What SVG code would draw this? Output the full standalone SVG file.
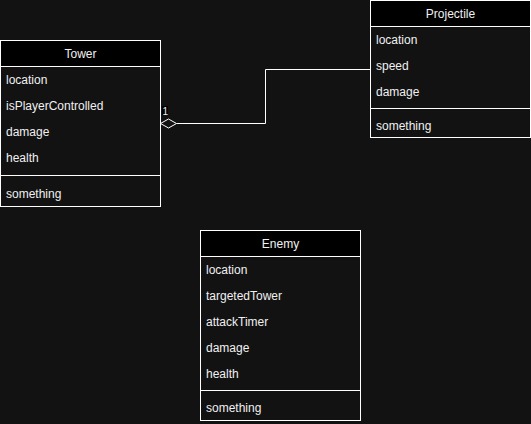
<svg xmlns="http://www.w3.org/2000/svg" width="531" height="424" viewBox="0 0 531 424">
  <style>
    .box { fill: #121212; stroke: #ffffff; stroke-width: 1; }
    .head { fill: #000000; stroke: #ffffff; stroke-width: 1; }
    .sep { stroke: #ffffff; stroke-width: 1; }
    text { font-family: "Liberation Sans", Arial, sans-serif; font-size: 12px; fill: #f0f0f0; }
    .title { text-anchor: middle; }
    .edge { fill: none; stroke: #ffffff; stroke-width: 1; }
  </style>
  <rect x="0" y="0" width="531" height="424" fill="#121212"/>

  <g id="connectors">
    <polyline class="edge" points="370.5,69.5 265.5,69.5 265.5,123.5 176.5,123.5"/>
    <polygon points="160.5,123.5 168.5,119 176.5,123.5 168.5,128" fill="#121212" stroke="#ffffff" stroke-width="1"/>
    <rect x="162" y="106" width="6" height="9" fill="#000000"/>
    <text x="162.5" y="114.5" style="font-size:10px">1</text>
  </g>

  <g id="tower">
    <rect class="box" x="0.5" y="40.5" width="160" height="166"/>
    <rect class="head" x="0.5" y="40.5" width="160" height="26"/>
    <text class="title" x="80.5" y="58">Tower</text>
    <text x="6" y="84">location</text>
    <text x="6" y="110">isPlayerControlled</text>
    <text x="6" y="136">damage</text>
    <text x="6" y="162">health</text>
    <line class="sep" x1="0.5" y1="175.5" x2="160.5" y2="175.5"/>
    <text x="6" y="198">something</text>
  </g>

  <g id="projectile">
    <rect class="box" x="370.5" y="0.5" width="160" height="137"/>
    <rect class="head" x="370.5" y="0.5" width="160" height="26"/>
    <text class="title" x="450.5" y="18">Projectile</text>
    <text x="376" y="44">location</text>
    <text x="376" y="70">speed</text>
    <text x="376" y="96">damage</text>
    <line class="sep" x1="370.5" y1="108.5" x2="530.5" y2="108.5"/>
    <text x="376" y="130">something</text>
  </g>

  <g id="enemy">
    <rect class="box" x="200.5" y="230.5" width="160" height="190"/>
    <rect class="head" x="200.5" y="230.5" width="160" height="26"/>
    <text class="title" x="280.5" y="248">Enemy</text>
    <text x="206" y="274">location</text>
    <text x="206" y="300">targetedTower</text>
    <text x="206" y="326">attackTimer</text>
    <text x="206" y="352">damage</text>
    <text x="206" y="378">health</text>
    <line class="sep" x1="200.5" y1="390.5" x2="360.5" y2="390.5"/>
    <text x="206" y="412">something</text>
  </g>
</svg>
